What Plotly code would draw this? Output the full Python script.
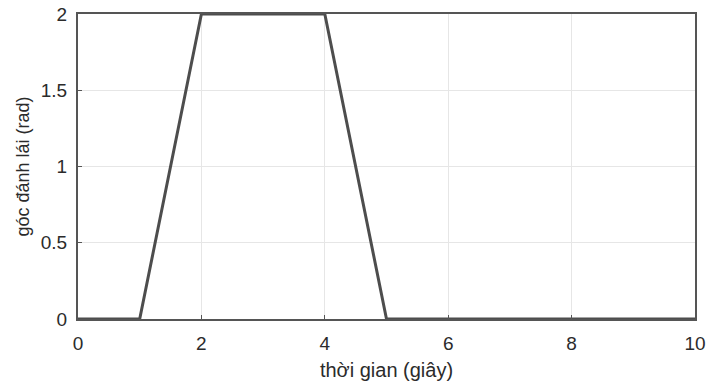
import plotly.graph_objects as go

# Steering angle profile over time
time_s = [0, 1, 2, 4, 5, 10]
angle_rad = [0, 0, 2, 2, 0, 0]

x_ticks = [0, 2, 4, 6, 8, 10]
y_ticks = [0, 0.5, 1, 1.5, 2]
y_tick_text = ["0", "0.5", "1", "1.5", "2"]

family = "Liberation Sans, Arial, sans-serif"
tick_font = dict(family=family, size=19, color="#2b2b2b")
xtitle_font = dict(family=family, size=20, color="#2b2b2b")
ytitle_font = dict(family=family, size=18, color="#2b2b2b")

fig = go.Figure()
fig.add_trace(go.Scatter(
    x=time_s, y=angle_rad, mode="lines",
    line=dict(color="#4d4d4d", width=3),
    showlegend=False, cliponaxis=True,
))

axis_common = dict(
    showgrid=True, gridcolor="#e6e6e6", gridwidth=1,
    showline=True, linecolor="#555555", linewidth=2, mirror=True,
    ticks="inside", ticklen=4, tickcolor="#555555", tickwidth=1,
    zeroline=False, tickfont=tick_font, automargin=False,
)

fig.update_layout(
    width=707, height=385,
    margin=dict(l=78, r=12, t=14, b=66),
    paper_bgcolor="white", plot_bgcolor="white",
    font=tick_font,
    xaxis=dict(range=[0, 10], tickvals=x_ticks, ticklabelstandoff=6,
               title=dict(text="thời gian (giây)", font=xtitle_font, standoff=10),
               **axis_common),
    yaxis=dict(range=[0, 2], tickvals=y_ticks, ticktext=y_tick_text,
               ticklabelstandoff=5,
               title=dict(text="góc đánh lái (rad)", font=ytitle_font, standoff=6),
               **axis_common),
)

fig.write_html("out.html")
